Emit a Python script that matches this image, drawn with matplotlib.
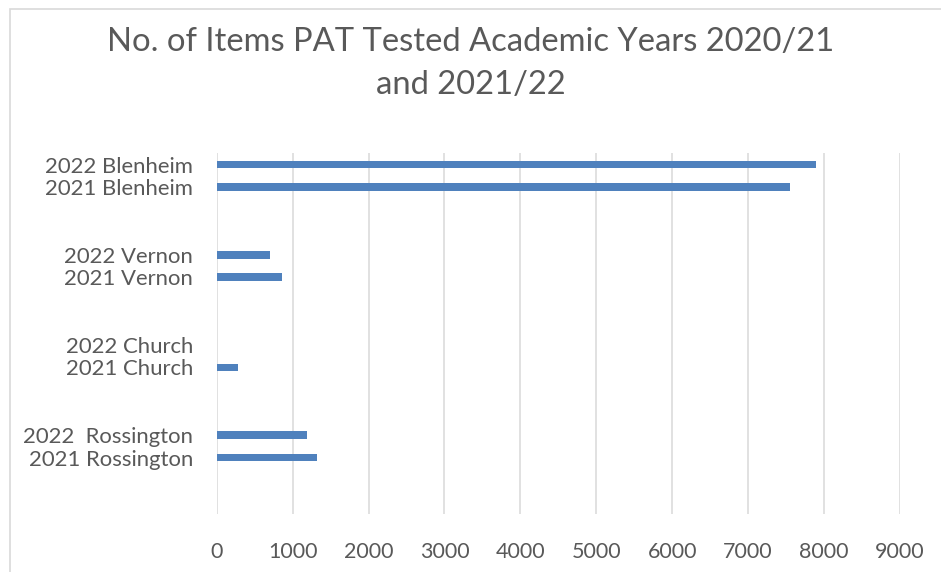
import matplotlib
matplotlib.use("Agg")
import matplotlib.pyplot as plt
from matplotlib.patches import Rectangle

# categories listed top to bottom; empty strings are Excel's blank rows
categories = [
    "2022 Blenheim", "2021 Blenheim", "", "",
    "2022 Vernon", "2021 Vernon", "", "",
    "2022 Church", "2021 Church", "", "",
    "2022  Rossington", "2021 Rossington", "", "",
]
items_tested = [
    7900, 7555, 0, 0,
    700, 855, 0, 0,
    0, 280, 0, 0,
    1185, 1315, 0, 0,
]
x_ticks = [0, 1000, 2000, 3000, 4000, 5000, 6000, 7000, 8000, 9000]

BAR_BLUE = "#4F81BD"
TEXT_GREY = "#595959"
GRID_GREY = "#D9D9D9"

plt.rcParams["font.family"] = ["Lato", "DejaVu Sans"]

fig = plt.figure(figsize=(9.41, 5.72), dpi=100)
ax = fig.add_axes([0.2303, 0.1014, 0.7261, 0.6306])

positions = list(range(len(categories)))
ax.barh(positions, items_tested, height=0.34, color=BAR_BLUE,
        linewidth=0, zorder=3)

ax.set_xlim(0, 9000)
ax.set_ylim(len(categories) - 0.5, -0.5)
ax.set_xticks(x_ticks)
ax.set_xticklabels([str(t) for t in x_ticks])
ax.set_yticks(positions)
ax.set_yticklabels(categories, fontsize=15.9)
ax.tick_params(axis="both", length=0, colors=TEXT_GREY)
ax.tick_params(axis="x", labelsize=15.5, pad=20)
ax.tick_params(axis="y", pad=17)
ax.grid(axis="x", color=GRID_GREY, linewidth=1.1, zorder=0)
for side in ["top", "right", "bottom", "left"]:
    ax.spines[side].set_visible(False)

fig.text(0.5, 0.889, "No. of Items PAT Tested Academic Years 2020/21\nand 2021/22",
         ha="center", va="center", fontsize=23.6, color=TEXT_GREY,
         linespacing=1.55)

# chart frame, cut off at the right and bottom like the screenshot
fig.patches.append(Rectangle((10 / 941, -0.1), 1.2, 1 - 9 / 572 + 0.1,
                             transform=fig.transFigure, fill=False,
                             edgecolor=GRID_GREY, linewidth=1.2))

fig.savefig("out.png", dpi=100, facecolor="white")
